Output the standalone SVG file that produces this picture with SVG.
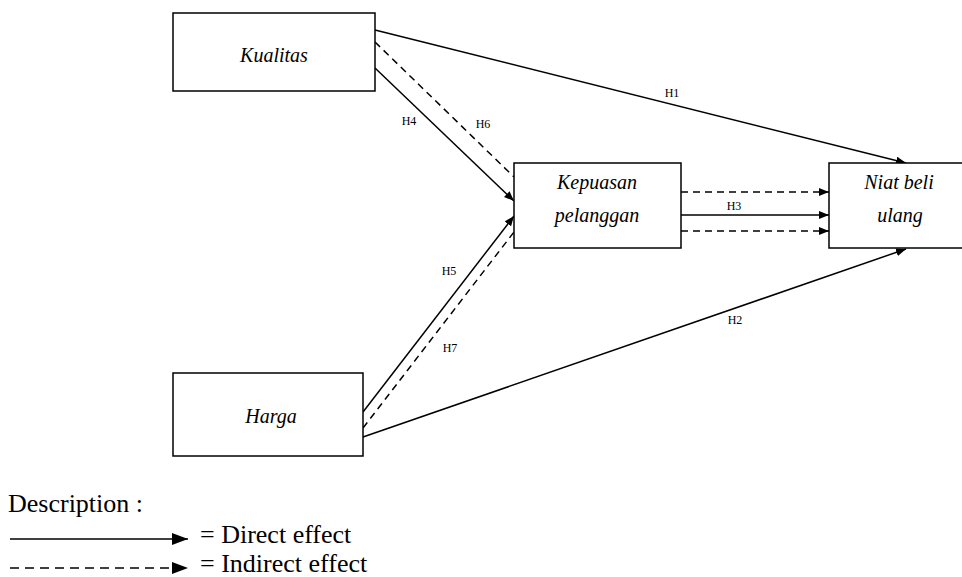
<svg xmlns="http://www.w3.org/2000/svg" width="962" height="577" viewBox="0 0 962 577">
<style>
.box{fill:#fff;stroke:#000;stroke-width:1.5}
.name{font-family:'Liberation Serif','DejaVu Serif',serif;font-style:italic;font-size:20px;fill:#000;text-anchor:middle}
.lbl{font-family:'Liberation Serif','DejaVu Serif',serif;font-size:12px;fill:#000;text-anchor:middle}
.leg{font-family:'Liberation Serif','DejaVu Serif',serif;font-size:26px;fill:#000}
.ln{stroke:#000;stroke-width:1.5;fill:none}
.dash{stroke-dasharray:7 5}
.legdash{stroke-dasharray:9 6}
</style>
<defs>
<marker id="arr" markerUnits="userSpaceOnUse" markerWidth="11" markerHeight="9" refX="10" refY="4" orient="auto">
<path d="M0,0 L10,4 L0,8 z" fill="#000"/>
</marker>
<marker id="arrBig" markerUnits="userSpaceOnUse" markerWidth="17" markerHeight="13" refX="16" refY="6" orient="auto">
<path d="M0,0 L16,6 L0,12 z" fill="#000"/>
</marker>
</defs>
<g id="connectors">
<line class="ln" x1="375" y1="30" x2="906" y2="163" marker-end="url(#arr)"/>
<line class="ln dash" x1="375" y1="42" x2="514" y2="177"/>
<line class="ln" x1="375" y1="68" x2="514" y2="201" marker-end="url(#arr)"/>
<line class="ln" x1="363" y1="412" x2="514" y2="216" marker-end="url(#arr)"/>
<line class="ln dash" x1="363" y1="428" x2="514" y2="232"/>
<line class="ln" x1="363" y1="437" x2="906" y2="249" marker-end="url(#arr)"/>
<line class="ln dash" x1="681" y1="192" x2="829" y2="192" marker-end="url(#arr)"/>
<line class="ln" x1="681" y1="215" x2="829" y2="215" marker-end="url(#arr)"/>
<line class="ln dash" x1="681" y1="231" x2="829" y2="231" marker-end="url(#arr)"/>
<text class="lbl" x="672" y="97">H1</text>
<text class="lbl" x="735" y="324">H2</text>
<text class="lbl" x="734" y="210">H3</text>
<text class="lbl" x="409" y="125">H4</text>
<text class="lbl" x="449" y="275">H5</text>
<text class="lbl" x="483" y="128">H6</text>
<text class="lbl" x="450" y="352">H7</text>
</g>
<g id="kualitas">
<rect class="box" x="173" y="13" width="202" height="78"/>
<text class="name" x="274" y="62">Kualitas</text>
</g>
<g id="harga">
<rect class="box" x="173" y="373" width="190" height="83"/>
<text class="name" x="271" y="423">Harga</text>
</g>
<g id="kepuasan">
<rect class="box" x="514" y="163" width="167" height="85"/>
<text class="name" x="597" y="189">Kepuasan</text>
<text class="name" x="597" y="222">pelanggan</text>
</g>
<g id="niat">
<rect class="box" x="829" y="163" width="145" height="85"/>
<text class="name" x="899" y="189">Niat beli</text>
<text class="name" x="900" y="222">ulang</text>
</g>
<g id="legend">
<text class="leg" x="8" y="512">Description :</text>
<line class="ln" x1="10" y1="539" x2="188" y2="539" marker-end="url(#arrBig)"/>
<text class="leg" x="200" y="543">= Direct effect</text>
<line class="ln legdash" x1="10" y1="568" x2="188" y2="568" marker-end="url(#arrBig)"/>
<text class="leg" x="200" y="572">= Indirect effect</text>
</g>
</svg>
